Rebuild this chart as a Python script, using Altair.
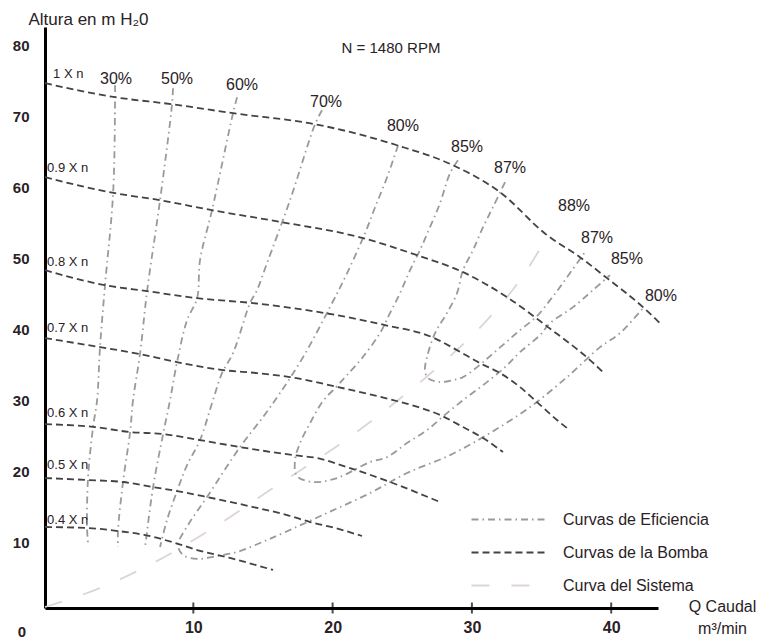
import altair as alt
import pandas as pd

FONT = "Liberation Sans"
TXT = "#2a2226"

# ---------------- data (x = Q caudal m3/min, y = altura m) ----------------
x_domain = [-0.65, 43.36]
y_domain = [0.84, 82.6]
x_ticks = [10, 20, 30, 40]
y_ticks = [10, 20, 30, 40, 50, 60, 70, 80]

# pump curves (Curvas de la Bomba)
p10_x = [-0.65, 4.38, 8.47, 12.85, 18.74, 24.62, 28.64, 32.02, 35.39, 37.76, 39.70, 42.28, 43.50]
p10_y = [74.69, 72.72, 71.73, 70.47, 68.92, 65.96, 63.15, 59.35, 53.31, 50.21, 47.26, 43.18, 40.93]
p09_x = [-0.65, 4.38, 7.61, 11.34, 16.37, 21.97, 26.06, 29.36, 32.52, 35.46, 38.48, 39.41]
p09_y = [61.46, 59.21, 58.23, 56.82, 55.13, 53.00, 50.49, 48.10, 44.59, 40.37, 35.73, 34.04]
p08_x = [-0.65, 3.66, 6.68, 10.27, 14.29, 19.45, 23.76, 27.14, 28.93, 30.58, 32.02, 33.45, 34.67, 36.11, 36.83]
p08_y = [48.38, 46.27, 45.43, 44.44, 43.74, 42.34, 40.65, 38.96, 37.13, 35.30, 33.90, 31.93, 29.82, 27.29, 26.16]
p07_x = [-0.65, 3.30, 6.17, 8.83, 12.13, 14.57, 16.94, 20.39, 24.34, 25.92, 27.72, 29.36, 30.80, 32.23]
p07_y = [38.82, 37.55, 36.57, 35.44, 34.32, 33.90, 33.33, 31.93, 30.10, 29.25, 27.99, 26.30, 24.75, 22.78]
p06_x = [-0.65, 2.94, 5.46, 7.83, 10.48, 13.35, 17.16, 18.88, 21.03, 24.12, 27.71]
p06_y = [26.72, 26.30, 25.60, 25.32, 24.47, 23.49, 22.36, 21.94, 20.67, 18.57, 15.75]
p05_x = [-0.65, 2.44, 4.95, 7.11, 8.83, 10.98, 14.29, 16.73, 18.38, 20.17, 22.11]
p05_y = [19.13, 18.85, 18.57, 17.86, 17.30, 16.46, 15.05, 13.92, 12.94, 12.10, 10.97]
p04_x = [-0.65, 2.37, 4.59, 6.53, 8.69, 10.27, 12.63, 15.72]
p04_y = [12.24, 12.10, 11.67, 11.11, 9.99, 9.00, 7.88, 6.19]

# efficiency curves (Curvas de Eficiencia)
e30_x = [4.38, 4.38, 4.24, 3.66, 3.30, 3.09, 2.80, 2.44, 2.37, 2.44]
e30_y = [74.40, 72.72, 59.21, 46.27, 37.55, 30.10, 26.30, 19.13, 12.10, 9.99]
e50_x = [8.54, 8.47, 7.61, 6.68, 6.17, 5.67, 5.46, 4.95, 4.59, 4.59]
e50_y = [73.98, 71.73, 58.23, 45.43, 36.57, 30.10, 25.60, 18.57, 11.67, 9.42]
e60_x = [13.14, 12.85, 11.34, 10.48, 10.27, 9.55, 8.83, 8.33, 7.83, 7.11, 6.53]
e60_y = [72.72, 70.47, 56.82, 49.79, 44.44, 41.35, 35.44, 30.10, 25.32, 17.86, 9.28]
e70_x = [19.24, 18.74, 16.94, 15.29, 14.57, 14.07, 12.85, 12.06, 11.41, 10.48, 9.55, 8.83, 8.11, 7.61]
e70_y = [70.89, 68.92, 58.23, 49.37, 45.57, 43.74, 36.71, 33.90, 30.10, 24.47, 20.96, 17.30, 13.22, 9.42]
e80_x = [24.70, 23.91, 23.05, 22.33, 21.04, 19.81, 17.88, 16.22, 15.00, 13.35, 10.98, 9.62, 8.90,
         9.26, 10.27, 11.70, 13.14, 14.79, 16.44, 19.60, 22.69, 25.34, 28.43, 31.30, 34.17, 36.83,
         39.20, 40.63, 42.28]
e80_y = [65.96, 61.46, 57.24, 53.59, 47.96, 43.18, 36.15, 31.08, 27.71, 23.49, 16.46, 12.52, 9.70,
         8.30, 7.74, 8.16, 8.72, 9.99, 11.39, 14.21, 17.02, 19.83, 22.36, 25.46, 29.11, 33.33,
         37.55, 39.52, 43.04]
e85_x = [29.00, 28.43, 27.71, 26.99, 26.27, 25.56, 24.84, 24.12, 23.40, 22.11, 21.03, 20.32, 19.31,
         18.38, 17.66, 17.30, 17.44, 18.59, 20.32, 22.68, 23.91, 25.34, 26.78, 28.21, 29.65, 31.08,
         32.38, 33.45, 34.89, 35.61, 37.26, 38.69, 39.91]
e85_y = [63.85, 62.03, 57.81, 54.43, 51.20, 48.38, 45.15, 42.34, 39.52, 36.01, 33.62, 32.07, 29.96,
         26.86, 24.05, 21.66, 19.41, 18.57, 19.13, 21.38, 22.08, 24.05, 25.88, 28.27, 30.52, 32.63,
         34.74, 36.85, 39.24, 40.93, 43.18, 45.57, 47.68]
e87_x = [32.38, 31.51, 30.80, 30.08, 29.36, 28.93, 28.21, 27.35, 26.78, 26.63, 26.85, 27.71, 28.64,
         29.36, 30.37, 31.30, 32.38, 33.45, 34.67, 35.61, 36.32, 37.19, 38.12]
e87_y = [60.76, 57.24, 54.43, 51.20, 48.38, 45.15, 42.34, 39.52, 36.15, 34.32, 33.19, 32.63, 32.91,
         33.33, 34.74, 36.29, 38.12, 39.94, 41.91, 44.16, 45.99, 48.38, 50.91]

# system curve (Curva del Sistema)
sys_x = [-0.65, 3.30, 7.11, 12.42, 15.29, 21.03, 24.26, 27.71, 31.08, 33.60, 35.39]
sys_y = [0.98, 3.66, 7.17, 13.36, 17.16, 24.61, 29.40, 35.02, 41.35, 47.40, 53.02]

# labels
eff_labels = ["30%", "50%", "60%", "70%", "80%", "85%", "87%", "88%", "87%", "85%", "80%"]
eff_label_x = [4.45, 8.83, 13.50, 19.53, 25.05, 29.65, 32.74, 37.33, 38.98, 41.13, 43.57]
eff_label_y = [75.3, 75.3, 74.5, 72.0, 68.6, 65.7, 62.7, 57.4, 52.9, 49.9, 44.7]

pump_labels = ["1 X n", "0.9 X n", "0.8 X n", "0.7 X n", "0.6 X n", "0.5 X n", "0.4 X n"]
pump_label_x = [-0.07, -0.5, -0.5, -0.5, -0.5, -0.5, -0.5]
pump_label_y = [75.95, 62.73, 49.51, 40.23, 28.27, 20.96, 13.22]

note_text = ["N = 1480 RPM"]
note_x = [24.19]
note_y = [79.58]

origin_text = ["0"]
origin_x = [-2.3]
origin_y = [-2.5]

T_EF = "Curvas de Eficiencia"
T_BO = "Curvas de la Bomba"
T_SI = "Curva del Sistema"
tipos = [T_EF, T_BO, T_SI]

# ---------------- build table ----------------
curves = [
    ("1.0", T_BO, p10_x, p10_y), ("0.9", T_BO, p09_x, p09_y), ("0.8", T_BO, p08_x, p08_y),
    ("0.7", T_BO, p07_x, p07_y), ("0.6", T_BO, p06_x, p06_y), ("0.5", T_BO, p05_x, p05_y),
    ("0.4", T_BO, p04_x, p04_y),
    ("e30", T_EF, e30_x, e30_y), ("e50", T_EF, e50_x, e50_y), ("e60", T_EF, e60_x, e60_y),
    ("e70", T_EF, e70_x, e70_y), ("e80", T_EF, e80_x, e80_y), ("e85", T_EF, e85_x, e85_y),
    ("e87", T_EF, e87_x, e87_y),
    ("sys", T_SI, sys_x, sys_y),
]
rows = []
for name, tipo, xs_, ys_ in curves:
    for i, (xv, yv) in enumerate(zip(xs_, ys_)):
        rows.append({"curva": name, "tipo": tipo, "orden": i, "Q": xv, "H": yv})
df = pd.DataFrame(rows)

xs = alt.Scale(domain=x_domain, nice=False, zero=False)
ys = alt.Scale(domain=y_domain, nice=False, zero=False)

x_axis = alt.Axis(values=x_ticks, ticks=False, grid=False, domainColor="black", domainWidth=3,
                  labelFont=FONT, labelFontSize=16, labelFontWeight="bold", labelColor=TXT,
                  labelPadding=11,
                  title=["Q Caudal", "m³/min"], titleFont=FONT, titleFontSize=16,
                  titleFontWeight="normal", titleColor=TXT, titleX=677, titleY=-10,
                  titleAlign="center", titleBaseline="top", titleLineHeight=22, titleAngle=0)
y_axis = alt.Axis(values=y_ticks, ticks=False, grid=False, domainColor="black", domainWidth=3,
                  labelFont=FONT, labelFontSize=15, labelFontWeight="bold", labelColor=TXT,
                  labelPadding=16,
                  title="Altura en m H₂0", titleFont=FONT, titleFontSize=17,
                  titleFontWeight="normal", titleColor=TXT, titleX=-17, titleY=-8,
                  titleAlign="left", titleBaseline="middle", titleAngle=0)

# legend symbol: a wide horizontal stroke (custom path, scaled by sqrt(size)/2)
legend = alt.Legend(orient="none", legendX=455.5, legendY=484, title=None,
                    symbolType="M-5,0H5", symbolSize=225, symbolStrokeWidth=1.8,
                    labelFont=FONT, labelFontSize=16, labelColor=TXT, labelOffset=45.5,
                    rowPadding=16, padding=0, direction="vertical", labelLimit=300)

color = alt.Color("tipo:N", scale=alt.Scale(domain=tipos, range=["#9a9a9a", "#454245", "#ddd4da"]),
                  legend=legend)
dash = alt.StrokeDash("tipo:N", scale=alt.Scale(domain=tipos, range=[[7, 4, 1.5, 4], [7, 4], [18, 22]]),
                      legend=legend)
width = alt.StrokeWidth("tipo:N", scale=alt.Scale(domain=tipos, range=[1.8, 1.8, 2.4]), legend=None)

base = alt.Chart(df).encode(
    x=alt.X("Q:Q", scale=xs, axis=x_axis),
    y=alt.Y("H:Q", scale=ys, axis=y_axis),
    color=color, strokeDash=dash, strokeWidth=width,
    detail="curva:N", order="orden:Q",
)
sys_layer = base.transform_filter(alt.datum.tipo == T_SI).mark_line(interpolate="monotone")
pump_layer = base.transform_filter(alt.datum.tipo == T_BO).mark_line(interpolate="monotone")
eff_layer = base.transform_filter(alt.datum.tipo == T_EF).mark_line(interpolate="catmull-rom")

tick_df = pd.DataFrame({"Q": x_ticks})
tick_layer = alt.Chart(tick_df).mark_tick(orient="vertical", size=11, thickness=2, color="black").encode(
    x=alt.X("Q:Q", scale=xs), y=alt.datum(y_domain[0], scale=ys))

eff_df = pd.DataFrame({"t": eff_labels, "Q": eff_label_x, "H": eff_label_y})
eff_text = alt.Chart(eff_df).mark_text(font=FONT, fontSize=16, color=TXT, align="center",
                                       baseline="middle").encode(
    x=alt.X("Q:Q", scale=xs), y=alt.Y("H:Q", scale=ys), text="t:N")

pump_df = pd.DataFrame({"t": pump_labels, "Q": pump_label_x, "H": pump_label_y})
pump_text = alt.Chart(pump_df).mark_text(font=FONT, fontSize=13, color=TXT, align="left",
                                         baseline="middle").encode(
    x=alt.X("Q:Q", scale=xs), y=alt.Y("H:Q", scale=ys), text="t:N")

note_df = pd.DataFrame({"t": note_text, "Q": note_x, "H": note_y})
note_layer = alt.Chart(note_df).mark_text(font=FONT, fontSize=15, color=TXT, align="center",
                                          baseline="middle").encode(
    x=alt.X("Q:Q", scale=xs), y=alt.Y("H:Q", scale=ys), text="t:N")

origin_df = pd.DataFrame({"t": origin_text, "Q": origin_x, "H": origin_y})
origin_layer = alt.Chart(origin_df).mark_text(font=FONT, fontSize=15, fontWeight="bold", color=TXT,
                                              align="center", baseline="middle").encode(
    x=alt.X("Q:Q", scale=xs), y=alt.Y("H:Q", scale=ys), text="t:N")

chart = alt.layer(sys_layer, eff_layer, pump_layer, tick_layer, eff_text, pump_text,
                  note_layer, origin_layer).properties(
    width=613, height=581,
    autosize=alt.AutoSizeParams(type="none"),
    padding={"left": 45, "top": 27, "right": 106, "bottom": 35},
    background="white",
).configure_view(stroke=None)

chart.save("out.html", embed_options={"renderer": "svg", "actions": False})
